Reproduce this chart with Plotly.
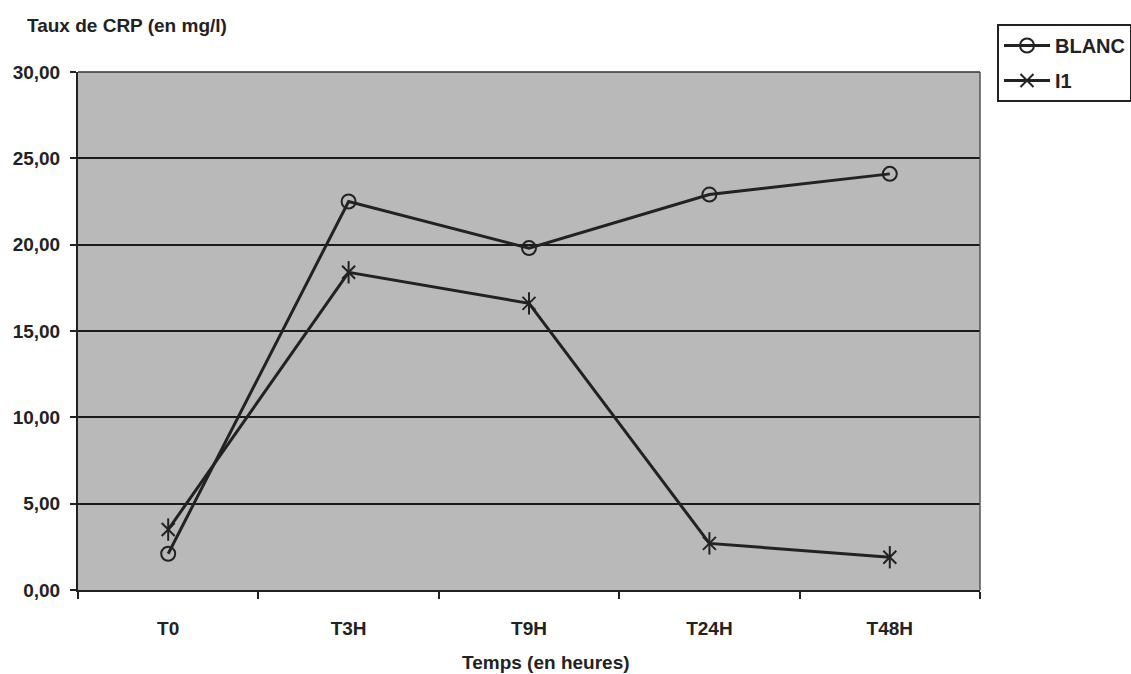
import plotly.graph_objects as go

categories = ["T0", "T3H", "T9H", "T24H", "T48H"]
blanc = [2.1, 22.5, 19.8, 22.9, 24.1]
i1 = [3.5, 18.4, 16.6, 2.7, 1.9]
y_ticks = [0, 5, 10, 15, 20, 25, 30]

FONT = "Liberation Sans, Arial, sans-serif"
DARK = "#222222"
FS = 19

fig = go.Figure()
fig.add_trace(go.Scatter(
    x=categories, y=blanc, name="<b>BLANC</b>", mode="lines+markers",
    legendgroup="a",
    line=dict(color=DARK, width=3),
    marker=dict(symbol="circle-open", size=14, color=DARK, line=dict(width=2)),
))
fig.add_trace(go.Scatter(
    x=categories, y=i1, name="<b>I1</b>", mode="lines+markers",
    legendgroup="b",
    line=dict(color=DARK, width=3),
    marker=dict(symbol="x-thin-open", size=13, color=DARK, line=dict(width=2, color=DARK)),
))
fig.add_trace(go.Scatter(
    x=categories, y=i1, mode="markers", showlegend=False, hoverinfo="skip",
    legendgroup="b",
    marker=dict(symbol="line-ns-open", size=16, color=DARK, line=dict(width=2, color=DARK)),
))

fig.update_layout(
    width=1131, height=674,
    margin=dict(l=78, r=151, t=72, b=84, autoexpand=False),
    paper_bgcolor="white", plot_bgcolor="#b9b9b9",
    font=dict(family=FONT, color=DARK, size=FS),
    showlegend=True,
    legend=dict(
        x=(997 - 78) / 902, y=(590 - 24) / 518, xanchor="left", yanchor="top",
        bordercolor=DARK, borderwidth=2, bgcolor="white",
        font=dict(size=20, family=FONT, color=DARK),
        tracegroupgap=6, itemwidth=46,
    ),
    xaxis=dict(
        type="category", range=[-0.5, 4.5], tickson="boundaries",
        ticks="outside", ticklen=7, tickwidth=2, tickcolor=DARK,
        showline=True, linecolor=DARK, linewidth=2, mirror=False,
        showgrid=False, zeroline=False,
        tickvals=categories, ticktext=["<b>%s</b>" % c for c in categories],
        tickfont=dict(size=FS, family=FONT, color=DARK),
        ticklabelstandoff=20,
    ),
    yaxis=dict(
        range=[0, 30], tickvals=y_ticks,
        ticktext=["<b>%s</b>" % ("%.2f" % v).replace(".", ",") for v in y_ticks],
        ticks="outside", ticklen=6, tickwidth=2, tickcolor=DARK,
        showline=True, linecolor=DARK, linewidth=2,
        showgrid=True, gridcolor="#1a1a1a", gridwidth=1.5, zeroline=False,
        tickfont=dict(size=FS, family=FONT, color=DARK),
        ticklabelstandoff=6,
    ),
    annotations=[
        dict(text="<b>Taux de CRP (en mg/l)</b>", xref="paper", yref="paper",
             x=(25 - 78) / 902, y=(590 - 25) / 518, xanchor="left", yanchor="middle",
             showarrow=False, font=dict(size=FS, family=FONT, color=DARK)),
        dict(text="<b>Temps (en heures)</b>", xref="paper", yref="paper",
             x=(546 - 78) / 902, y=(590 - 662) / 518, xanchor="center", yanchor="middle",
             showarrow=False, font=dict(size=FS, family=FONT, color=DARK)),
    ],
)
# right and top borders of the plot area
fig.add_shape(type="line", xref="paper", yref="paper", x0=1, x1=1, y0=0, y1=1,
              line=dict(color="#555555", width=1.5))
fig.add_shape(type="line", xref="paper", yref="paper", x0=0, x1=1, y0=1, y1=1,
              line=dict(color="#333333", width=1.5))

fig.write_html("out.html")
